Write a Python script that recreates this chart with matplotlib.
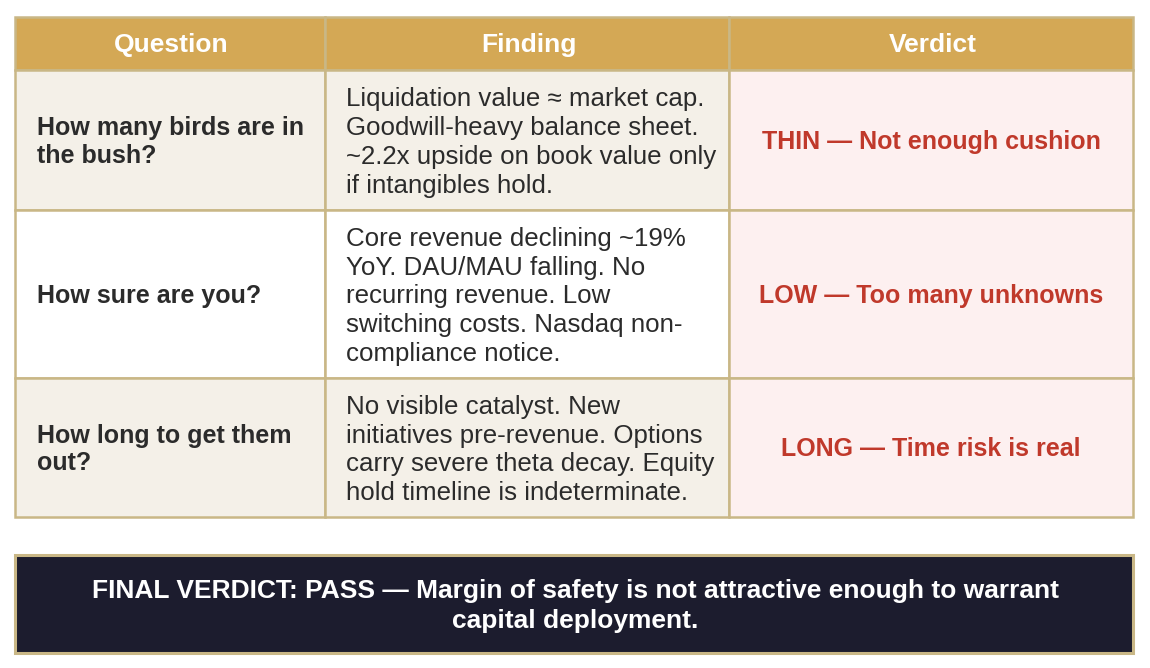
import matplotlib
matplotlib.use("Agg")
import matplotlib.pyplot as plt
from matplotlib.patches import Rectangle

headers = ["Question", "Finding", "Verdict"]
questions = ["How many birds are in\nthe bush?",
             "How sure are you?",
             "How long to get them\nout?"]
findings = ["Liquidation value \u2248 market cap.\nGoodwill-heavy balance sheet.\n~2.2x upside on book value only\nif intangibles hold.",
            "Core revenue declining ~19%\nYoY. DAU/MAU falling. No\nrecurring revenue. Low\nswitching costs. Nasdaq non-\ncompliance notice.",
            "No visible catalyst. New\ninitiatives pre-revenue. Options\ncarry severe theta decay. Equity\nhold timeline is indeterminate."]
verdicts = ["THIN \u2014 Not enough cushion",
            "LOW \u2014 Too many unknowns",
            "LONG \u2014 Time risk is real"]
final_text = "FINAL VERDICT: PASS \u2014 Margin of safety is not attractive enough to warrant\ncapital deployment."

plt.rcParams['font.family'] = ['Liberation Sans', 'DejaVu Sans']

W, H = 1150, 668
fig = plt.figure(figsize=(W / 100, H / 100), dpi=100)
ax = fig.add_axes([0, 0, 1, 1])
ax.set_xlim(0, W)
ax.set_ylim(H, 0)
ax.axis('off')

header_c = "#D4A855"
beige = "#F4F0E8"
white = "#FFFFFF"
pink = "#FDF0F0"
border = "#C9B786"
red = "#C0392B"
dark_text = "#2B2B2B"
navy = "#1C1C2E"

col_x = [15, 325, 729, 1133]
row_y = [17, 70, 210, 378, 517]
fs_reg = 18.6
fs_bold = 18.0
fs_head = 19.0
fs_final = 19.0
lw = 1.8

# header
for j in range(3):
    ax.add_patch(Rectangle((col_x[j], row_y[0]), col_x[j + 1] - col_x[j], row_y[1] - row_y[0],
                           facecolor=header_c, edgecolor=border, lw=lw))
    ax.text((col_x[j] + col_x[j + 1]) / 2 + 1.5, 52, headers[j],
            ha='center', va='baseline', color='white', fontsize=fs_head, fontweight='bold')

for i in range(3):
    y0, y1 = row_y[i + 1], row_y[i + 2]
    yc = (y0 + y1) / 2
    bg = beige if i % 2 == 0 else white
    for j in range(3):
        fc = pink if j == 2 else bg
        ax.add_patch(Rectangle((col_x[j], y0), col_x[j + 1] - col_x[j], y1 - y0,
                               facecolor=fc, edgecolor=border, lw=lw))
    ax.text(37, yc + 2, questions[i], ha='left', va='center', color=dark_text,
            fontsize=fs_bold, fontweight='bold', linespacing=1.2)
    ax.text(346, yc + 2.5, findings[i], ha='left', va='center', color=dark_text,
            fontsize=fs_reg, linespacing=1.255)
    ax.text((col_x[2] + col_x[3]) / 2, yc + 2, verdicts[i], ha='center', va='center',
            color=red, fontsize=fs_bold, fontweight='bold')

# final box
ax.add_patch(Rectangle((15, 555), 1118, 98, facecolor=navy, edgecolor=border, lw=2.2))
ax.text(575, 606, final_text, ha='center', va='center', color='white',
        fontsize=fs_final, fontweight='bold', linespacing=1.3)

fig.savefig("out.png", dpi=100, facecolor='white')
